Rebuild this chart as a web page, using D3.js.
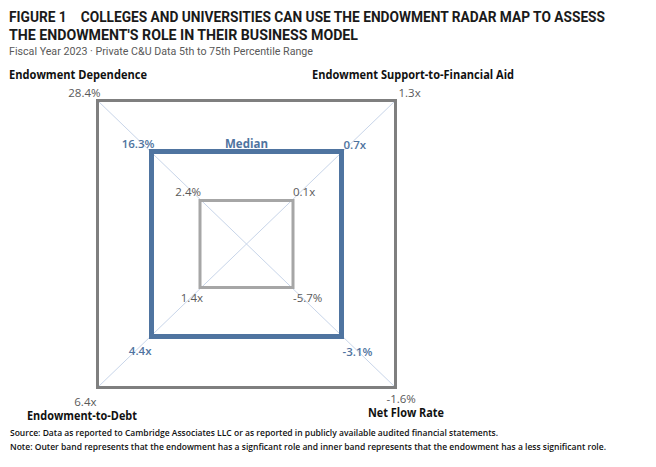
<!DOCTYPE html>
<html>
<head>
<meta charset="utf-8">
<script src="https://cdn.jsdelivr.net/npm/d3@7"></script>
<style>
  body { margin: 0; background: #fff; }
  text { font-family: "Open Sans", "Noto Sans", sans-serif; }
</style>
</head>
<body>
<div id="chart"></div>
<script>

//==================================//
// Data
//

let axes = ['Endowment Dependence', 'Endowment Support-to-Financial Aid', 'Net Flow Rate', 'Endowment-to-Debt']
let levels = ['inner', 'median', 'outer']

// values per axis, ordered inner (less significant) -> median -> outer (significant)
let dependence = [2.4, 16.3, 28.4]
let finAid = [0.1, 0.7, 1.3]
let netFlow = [-5.7, -3.1, -1.6]
let toDebt = [1.4, 4.4, 6.4]

let dependenceLabels = ['2.4%', '16.3%', '28.4%']
let finAidLabels = ['0.1x', '0.7x', '1.3x']
let netFlowLabels = ['-5.7%', '-3.1%', '-1.6%']
let toDebtLabels = ['1.4x', '4.4x', '6.4x']

let seriesValues = [dependence, finAid, netFlow, toDebt]
let seriesLabels = [dependenceLabels, finAidLabels, netFlowLabels, toDebtLabels]


//==================================//
// Layout
//

let svgw = 656, svgh = 467
let cx = 246.5, cy = 244
let ringRx = [46.5, 95, 149]
let ringRy = [43.5, 92.5, 143.5]

// corner direction of each axis: TL, TR, BR, BL
let dirs = [[-1, -1], [1, -1], [1, 1], [-1, 1]]

let levelStyle = {
    inner: {stroke: '#a6a6a6', width: 3, text: '#595959', weight: 400},
    median: {stroke: '#4f74a0', width: 5, text: '#4f74a0', weight: 600},
    outer: {stroke: '#7f7f7f', width: 3, text: '#595959', weight: 400}
}

// label offsets [axis][level] -> [dx, dy, anchor]
let labelOff = [
    [[1, -5, 'end'], [3, -4, 'end'], [3, -4, 'end']],
    [[0, -5, 'start'], [2, -3, 'start'], [3, -4, 'start']],
    [[0, 14, 'start'], [1, 19, 'start'], [-9, 15, 'start']],
    [[3, 14, 'end'], [0, 18, 'end'], [-1, 18, 'end']]
]

let svg = d3.select('#chart').append('svg')
    .attr('width', svgw)
    .attr('height', svgh)

//====[ Scales, one per axis ]====//

let xScales = seriesValues.map(v => d3.scaleLinear().domain(v).range(ringRx))
let yScales = seriesValues.map(v => d3.scaleLinear().domain(v).range(ringRy))

function corner(axisIdx, value) {
    return [
        cx + dirs[axisIdx][0] * xScales[axisIdx](value),
        cy + dirs[axisIdx][1] * yScales[axisIdx](value)
    ]
}


//==================================//
// Diagonal spokes
//

let g_spokes = svg.append('g')

g_spokes.selectAll('line')
    .data([[0, 2], [1, 3]])
    .enter()
    .append('line')
    .attr('x1', d => corner(d[0], seriesValues[d[0]][2])[0])
    .attr('y1', d => corner(d[0], seriesValues[d[0]][2])[1])
    .attr('x2', d => corner(d[1], seriesValues[d[1]][2])[0])
    .attr('y2', d => corner(d[1], seriesValues[d[1]][2])[1])
    .attr('stroke', '#c8d5e9')
    .attr('stroke-width', 1)


//==================================//
// Bands
//

let line = d3.line().curve(d3.curveLinearClosed)

let g_bands = svg.append('g')

g_bands.selectAll('path')
    .data(levels)
    .enter()
    .append('path')
    .attr('d', (lvl, li) => line(seriesValues.map((v, ai) => corner(ai, v[li]))))
    .attr('fill', 'none')
    .attr('stroke', lvl => levelStyle[lvl].stroke)
    .attr('stroke-width', lvl => levelStyle[lvl].width)
    .attr('stroke-linejoin', 'miter')


//==================================//
// Value labels
//

let g_labels = svg.append('g')

seriesValues.forEach((vals, ai) => {
    levels.forEach((lvl, li) => {
        let p = corner(ai, vals[li])
        let off = labelOff[ai][li]
        g_labels.append('text')
            .attr('x', p[0] + off[0])
            .attr('y', p[1] + off[1])
            .attr('text-anchor', off[2])
            .attr('font-size', 11.5)
            .attr('font-weight', levelStyle[lvl].weight)
            .attr('fill', levelStyle[lvl].text)
            .text(seriesLabels[ai][li])
    })
})

// median tag on the top edge
g_labels.append('text')
    .attr('x', (corner(0, dependence[1])[0] + corner(1, finAid[1])[0]) / 2)
    .attr('y', corner(0, dependence[1])[1] - 4)
    .attr('text-anchor', 'middle')
    .attr('font-size', 11.5)
    .attr('font-weight', 700)
    .attr('fill', '#4f74a0')
    .text('Median')


//==================================//
// Axis titles
//

let axisTitlePos = [[9, 79, 138], [312, 79, 202], [368, 417, 76], [27, 420, 110]]

svg.append('g').selectAll('text')
    .data(axes)
    .enter()
    .append('text')
    .attr('x', (d, i) => axisTitlePos[i][0])
    .attr('y', (d, i) => axisTitlePos[i][1])
    .attr('textLength', (d, i) => axisTitlePos[i][2])
    .attr('lengthAdjust', 'spacingAndGlyphs')
    .attr('font-size', 11.5)
    .attr('font-weight', 700)
    .attr('fill', '#111')
    .text(d => d)


//==================================//
// Title, subtitle, notes
//

let titleLines = [
    ['FIGURE 1\u2003COLLEGES AND UNIVERSITIES CAN USE THE ENDOWMENT RADAR MAP TO ASSESS', 22, 596],
    ["THE ENDOWMENT'S ROLE IN THEIR BUSINESS MODEL", 40, 349]
]

svg.append('g').selectAll('text')
    .data(titleLines)
    .enter()
    .append('text')
    .attr('x', 9)
    .attr('y', d => d[1])
    .attr('textLength', d => d[2])
    .attr('lengthAdjust', 'spacingAndGlyphs')
    .style('font-family', 'Roboto, sans-serif')
    .attr('font-size', 14.5)
    .attr('font-weight', 700)
    .attr('fill', '#1a1a1a')
    .text(d => d[0])

svg.append('text')
    .attr('x', 9)
    .attr('y', 55)
    .attr('textLength', 304)
    .attr('lengthAdjust', 'spacingAndGlyphs')
    .style('font-family', 'Roboto, sans-serif')
    .attr('font-size', 11)
    .attr('fill', '#595959')
    .text('Fiscal Year 2023 \u00b7 Private C&U Data 5th to 75th Percentile Range')

let notes = [
    ['Source: Data as reported to Cambridge Associates LLC or as reported in publicly available audited financial statements.', 436, 488],
    ['Note: Outer band represents that the endowment has a signficant role and inner band represents that the endowment has a less significant role.', 450, 596]
]

svg.append('g').selectAll('text')
    .data(notes)
    .enter()
    .append('text')
    .attr('x', 10)
    .attr('y', d => d[1])
    .attr('textLength', d => d[2])
    .attr('lengthAdjust', 'spacingAndGlyphs')
    .attr('font-size', 8.5)
    .attr('font-weight', 600)
    .attr('fill', '#111')
    .text(d => d[0])

</script>
</body>
</html>
